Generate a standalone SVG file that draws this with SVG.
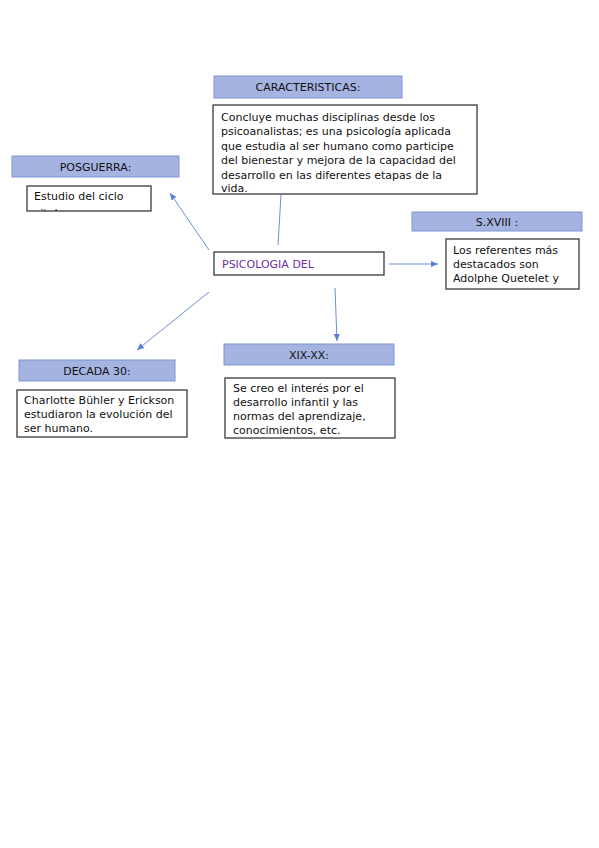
<svg xmlns="http://www.w3.org/2000/svg" width="599" height="848" viewBox="0 0 599 848">
<style>
.hdr{fill:#a5b3e1;stroke:#7c95d4;stroke-width:1}
.box{fill:#fff;stroke:#3a3a3a;stroke-width:1.3}
.t{font-family:"DejaVu Sans",sans-serif;font-size:11px;fill:#111}
.h{font-family:"DejaVu Sans",sans-serif;font-size:11px;fill:#111;text-anchor:middle}
.c{stroke:#6d8fd6;stroke-width:1;fill:none}
</style>
<defs>
<marker id="ah" markerWidth="8" markerHeight="8" refX="7" refY="4" orient="auto" markerUnits="userSpaceOnUse">
<path d="M0,1 L7,4 L0,7 Z" fill="#5b7fd0"/>
</marker>
<clipPath id="clipE"><rect x="27" y="186" width="124" height="25"/></clipPath>
</defs>
<rect width="599" height="848" fill="#fff"/>
<g id="connectors">
<line class="c" x1="278" y1="245" x2="281" y2="195"/>
<line class="c" x1="209" y1="250" x2="170" y2="193" marker-end="url(#ah)"/>
<line class="c" x1="209" y1="292" x2="137" y2="350" marker-end="url(#ah)"/>
<line class="c" x1="389" y1="264" x2="438" y2="264" marker-end="url(#ah)"/>
<line class="c" x1="335" y1="288" x2="337" y2="341" marker-end="url(#ah)"/>
</g>
<g id="caracteristicas-header">
<rect class="hdr" x="214" y="76" width="188" height="22"/>
<text class="h" x="308" y="91">CARACTERISTICAS:</text>
</g>
<g id="caracteristicas-text">
<rect class="box" x="213" y="105" width="264" height="89"/>
<text class="t" x="221" y="120.5">Concluye muchas disciplinas desde los</text>
<text class="t" x="221" y="135">psicoanalistas; es una psicología aplicada</text>
<text class="t" x="221" y="149.5">que estudia al ser humano como participe</text>
<text class="t" x="221" y="164">del bienestar y mejora de la capacidad del</text>
<text class="t" x="221" y="178.5">desarrollo en las diferentes etapas de la</text>
<text class="t" x="221" y="192">vida.</text>
</g>
<g id="posguerra-header">
<rect class="hdr" x="12" y="156" width="167" height="21"/>
<text class="h" x="95.5" y="170.5">POSGUERRA:</text>
</g>
<g id="posguerra-text">
<rect class="box" x="27" y="186" width="124" height="25"/>
<g clip-path="url(#clipE)">
<text class="t" x="34" y="200">Estudio del ciclo</text>
<text class="t" x="34" y="217">vital</text>
</g>
</g>
<g id="sxviii-header">
<rect class="hdr" x="412" y="212" width="170" height="19"/>
<text class="h" x="497" y="225.5">S.XVIII :</text>
</g>
<g id="sxviii-text">
<rect class="box" x="446" y="239" width="133" height="50"/>
<text class="t" x="453" y="253.5">Los referentes más</text>
<text class="t" x="453" y="267.5">destacados son</text>
<text class="t" x="453" y="281.5">Adolphe Quetelet y</text>
</g>
<g id="center">
<rect class="box" x="214" y="252" width="170" height="23"/>
<text class="t" x="222" y="267.5" style="fill:#7030a0">PSICOLOGIA DEL</text>
</g>
<g id="xixxx-header">
<rect class="hdr" x="224" y="344" width="170" height="21"/>
<text class="h" x="309" y="358.5">XIX-XX:</text>
</g>
<g id="xixxx-text">
<rect class="box" x="225" y="378" width="170" height="60"/>
<text class="t" x="233" y="392">Se creo el interés por el</text>
<text class="t" x="233" y="406">desarrollo infantil y las</text>
<text class="t" x="233" y="420">normas del aprendizaje,</text>
<text class="t" x="233" y="434">conocimientos, etc.</text>
</g>
<g id="decada-header">
<rect class="hdr" x="19" y="360" width="156" height="21"/>
<text class="h" x="97" y="374.5">DECADA 30:</text>
</g>
<g id="decada-text">
<rect class="box" x="17" y="390" width="170" height="47"/>
<text class="t" x="24" y="404">Charlotte Bühler y Erickson</text>
<text class="t" x="24" y="418">estudiaron la evolución del</text>
<text class="t" x="24" y="432">ser humano.</text>
</g>
</svg>
